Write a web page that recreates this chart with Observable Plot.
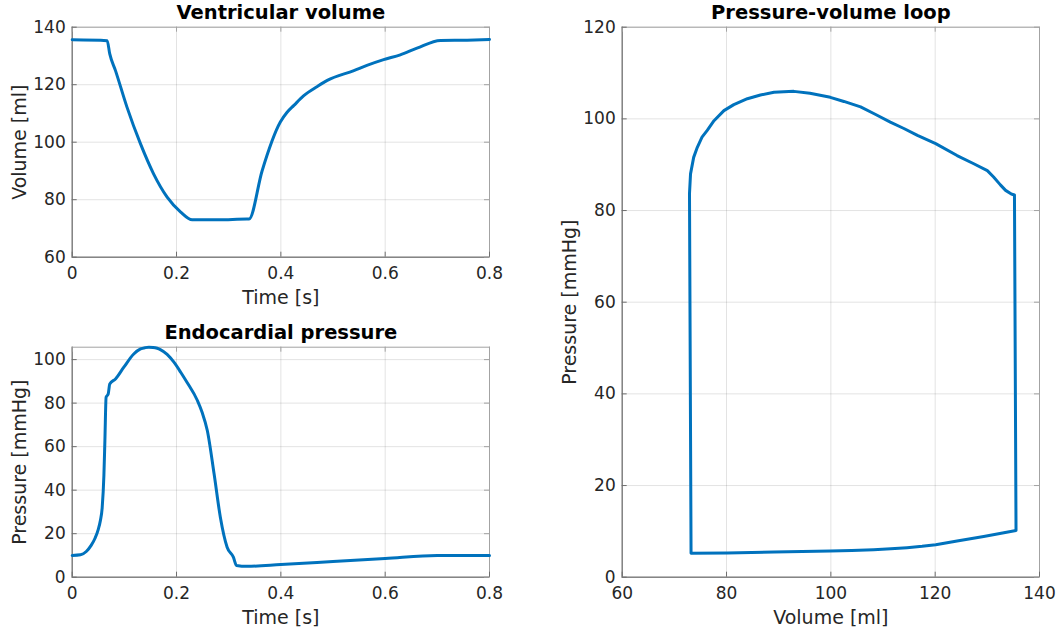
<!DOCTYPE html>
<html>
<head>
<meta charset="utf-8">
<script src="https://cdn.jsdelivr.net/npm/d3@7"></script>
<script src="https://cdn.jsdelivr.net/npm/@observablehq/plot@0.6"></script>
<style>
  html, body { margin: 0; padding: 0; background: #fff; }
  #fig { position: relative; width: 1060px; height: 632px; background: #fff; font-family: "DejaVu Sans", sans-serif; }
  #fig > svg { position: absolute; }
</style>
</head>
<body>
<div id="fig"></div>
<script>
// ---------- data ----------
const volTime = [0, 0.067, 0.072, 0.083, 0.105, 0.131, 0.156, 0.182, 0.208, 0.230, 0.280, 0.335, 0.339, 0.364, 0.399, 0.412, 0.425, 0.444, 0.470, 0.489, 0.540, 0.565, 0.597, 0.629, 0.661, 0.706, 0.757, 0.8];
const volume  = [135.6, 135.3, 130.7, 124.9, 112.2, 99.4, 89.0, 80.9, 75.7, 73.0, 73.0, 73.3, 73.3, 90.0, 107.0, 110.4, 112.8, 116.2, 119.4, 121.5, 124.9, 126.7, 128.7, 130.4, 132.7, 135.4, 135.5, 135.7];

const presTime = [0, 0.016, 0.027, 0.036, 0.044, 0.050, 0.054, 0.0575, 0.0608, 0.0627, 0.065, 0.069, 0.072, 0.083, 0.099, 0.118, 0.131, 0.140, 0.147, 0.155, 0.163, 0.169, 0.182, 0.195, 0.208, 0.220, 0.240, 0.249, 0.259, 0.272, 0.284, 0.297, 0.309, 0.315, 0.335, 0.4, 0.5, 0.6, 0.7, 0.8];
const pressure = [10, 10.3, 11.8, 14.5, 18.0, 22.0, 26.0, 32.0, 47.0, 63.0, 82.7, 84.2, 88.8, 91.1, 96.5, 102.6, 104.9, 105.5, 105.7, 105.6, 105.2, 104.6, 102.4, 98.8, 94.2, 89.6, 81.2, 75.8, 67.4, 47.5, 27.6, 13.8, 9.2, 5.4, 5.0, 5.8, 7.2, 8.6, 10, 10];

const pvVolume   = [135.5, 135.2, 134.6, 133.5, 132.5, 131.2, 130.0, 127.4, 124.2, 120.1, 116.6, 114.0, 111.4, 108.5, 105.7, 102.5, 99.9, 96.0, 92.9, 89.1, 86.5, 84.0, 81.4, 79.5, 77.6, 76.3, 75.3, 74.4, 73.7, 73.1, 72.9, 73.2, 80.1, 89.1, 99.9, 104.0, 108.2, 111.5, 114.6, 117.5, 120.1, 124.2, 129.3, 135.5];
const pvPressure = [10.2, 83.4, 83.6, 84.4, 85.6, 87.3, 88.7, 90.2, 92.0, 94.6, 96.4, 97.9, 99.3, 101.0, 102.6, 103.8, 104.7, 105.6, 106.0, 105.8, 105.2, 104.4, 103.1, 101.8, 99.6, 97.5, 96.0, 93.8, 91.6, 88.0, 83.7, 5.2, 5.3, 5.5, 5.7, 5.85, 6.0, 6.2, 6.45, 6.75, 7.1, 7.9, 8.9, 10.2];

const timeTicks = [0, 0.2, 0.4, 0.6, 0.8];
const volumeTicks = [60, 80, 100, 120, 140];
const pressureTicks = [0, 20, 40, 60, 80, 100];
const pvPressureTicks = [0, 20, 40, 60, 80, 100, 120];

const titles = ["Ventricular volume", "Endocardial pressure", "Pressure-volume loop"];
const timeLabel = "Time [s]";
const volumeLabel = "Volume [ml]";
const pressureLabel = "Pressure [mmHg]";

// ---------- drawing ----------
const FONT = "DejaVu Sans";
const LINE = "#0072BD";
const AXIS = "#6e6e6e";
const TEXT = "#262626";

function panel(o) {
  const {xs, ys, xDomain, yDomain, xTicks, yTicks, title, xLabel, yLabel,
         width, height, mt, mr, mb, ml, curve, left, top} = o;
  const innerH = height - mt - mb, innerW = width - ml - mr;
  const data = xs.map((x, i) => ({x, y: ys[i]}));
  const svg = Plot.plot({
    width, height,
    marginTop: mt, marginRight: mr, marginBottom: mb, marginLeft: ml,
    style: {fontFamily: FONT, fontSize: "17px", color: TEXT, background: "white", overflow: "visible"},
    x: {domain: xDomain},
    y: {domain: yDomain},
    marks: [
      Plot.ruleX(xTicks, {x: d => d, stroke: "#262626", strokeOpacity: 0.13}),
      Plot.ruleY(yTicks, {y: d => d, stroke: "#262626", strokeOpacity: 0.13}),
      Plot.frame({stroke: "#a3a3a3"}),
      Plot.ruleX([xDomain[0]], {x: d => d, stroke: AXIS}),
      Plot.ruleY([yDomain[0]], {y: d => d, stroke: AXIS}),
      Plot.tickX(xTicks, {x: d => d, insetTop: innerH - 5, stroke: AXIS}),
      Plot.tickX(xTicks, {x: d => d, insetBottom: innerH - 5, stroke: "#a3a3a3"}),
      Plot.tickY(yTicks, {y: d => d, insetRight: innerW - 5, stroke: AXIS}),
      Plot.tickY(yTicks, {y: d => d, insetLeft: innerW - 5, stroke: "#a3a3a3"}),
      Plot.axisX(xTicks, {tickSize: 0, tickPadding: 10, label: null, tickFormat: d => String(d), fontSize: 17, fill: TEXT}),
      Plot.axisY(yTicks, {tickSize: 0, tickPadding: 6.5, label: null, tickFormat: d => String(d), fontSize: 17, fill: TEXT}),
      Plot.line(data, {x: "x", y: "y", stroke: LINE, strokeWidth: 3, curve, strokeLinejoin: "round"}),
      Plot.text([title], {text: d => d, frameAnchor: "top", lineAnchor: "middle", textAnchor: "middle", dy: -14.6, fontWeight: "bold", fontSize: 19.5, fill: "#000"}),
      Plot.text([xLabel], {text: d => d, frameAnchor: "bottom", lineAnchor: "middle", textAnchor: "middle", dy: 41, fontSize: 19, fill: TEXT}),
      Plot.text([yLabel], {text: d => d, frameAnchor: "left", lineAnchor: "middle", textAnchor: "middle", dx: -52, rotate: -90, fontSize: 19, fill: TEXT})
    ]
  });
  svg.style.left = left + "px";
  svg.style.top = top + "px";
  document.getElementById("fig").appendChild(svg);
}

panel({
  xs: volTime, ys: volume, xDomain: [0, 0.8], yDomain: [60, 140],
  xTicks: timeTicks, yTicks: volumeTicks,
  title: titles[0], xLabel: timeLabel, yLabel: volumeLabel,
  width: 540, height: 316, mt: 26.7, mr: 51, mb: 59.3, ml: 71.7,
  curve: "monotone-x", left: 0, top: 0
});

panel({
  xs: presTime, ys: pressure, xDomain: [0, 0.8], yDomain: [0, d3.max(pressure)],
  xTicks: timeTicks, yTicks: pressureTicks,
  title: titles[1], xLabel: timeLabel, yLabel: pressureLabel,
  width: 540, height: 316, mt: 30.7, mr: 51, mb: 55.3, ml: 71.7,
  curve: "monotone-x", left: 0, top: 316
});

panel({
  xs: pvVolume, ys: pvPressure, xDomain: [60, 140], yDomain: [0, 120],
  xTicks: volumeTicks, yTicks: pvPressureTicks,
  title: titles[2], xLabel: volumeLabel, yLabel: pressureLabel,
  width: 520, height: 632, mt: 26.7, mr: 21, mb: 55.3, ml: 81.7,
  curve: "linear", left: 540, top: 0
});
</script>
</body>
</html>
